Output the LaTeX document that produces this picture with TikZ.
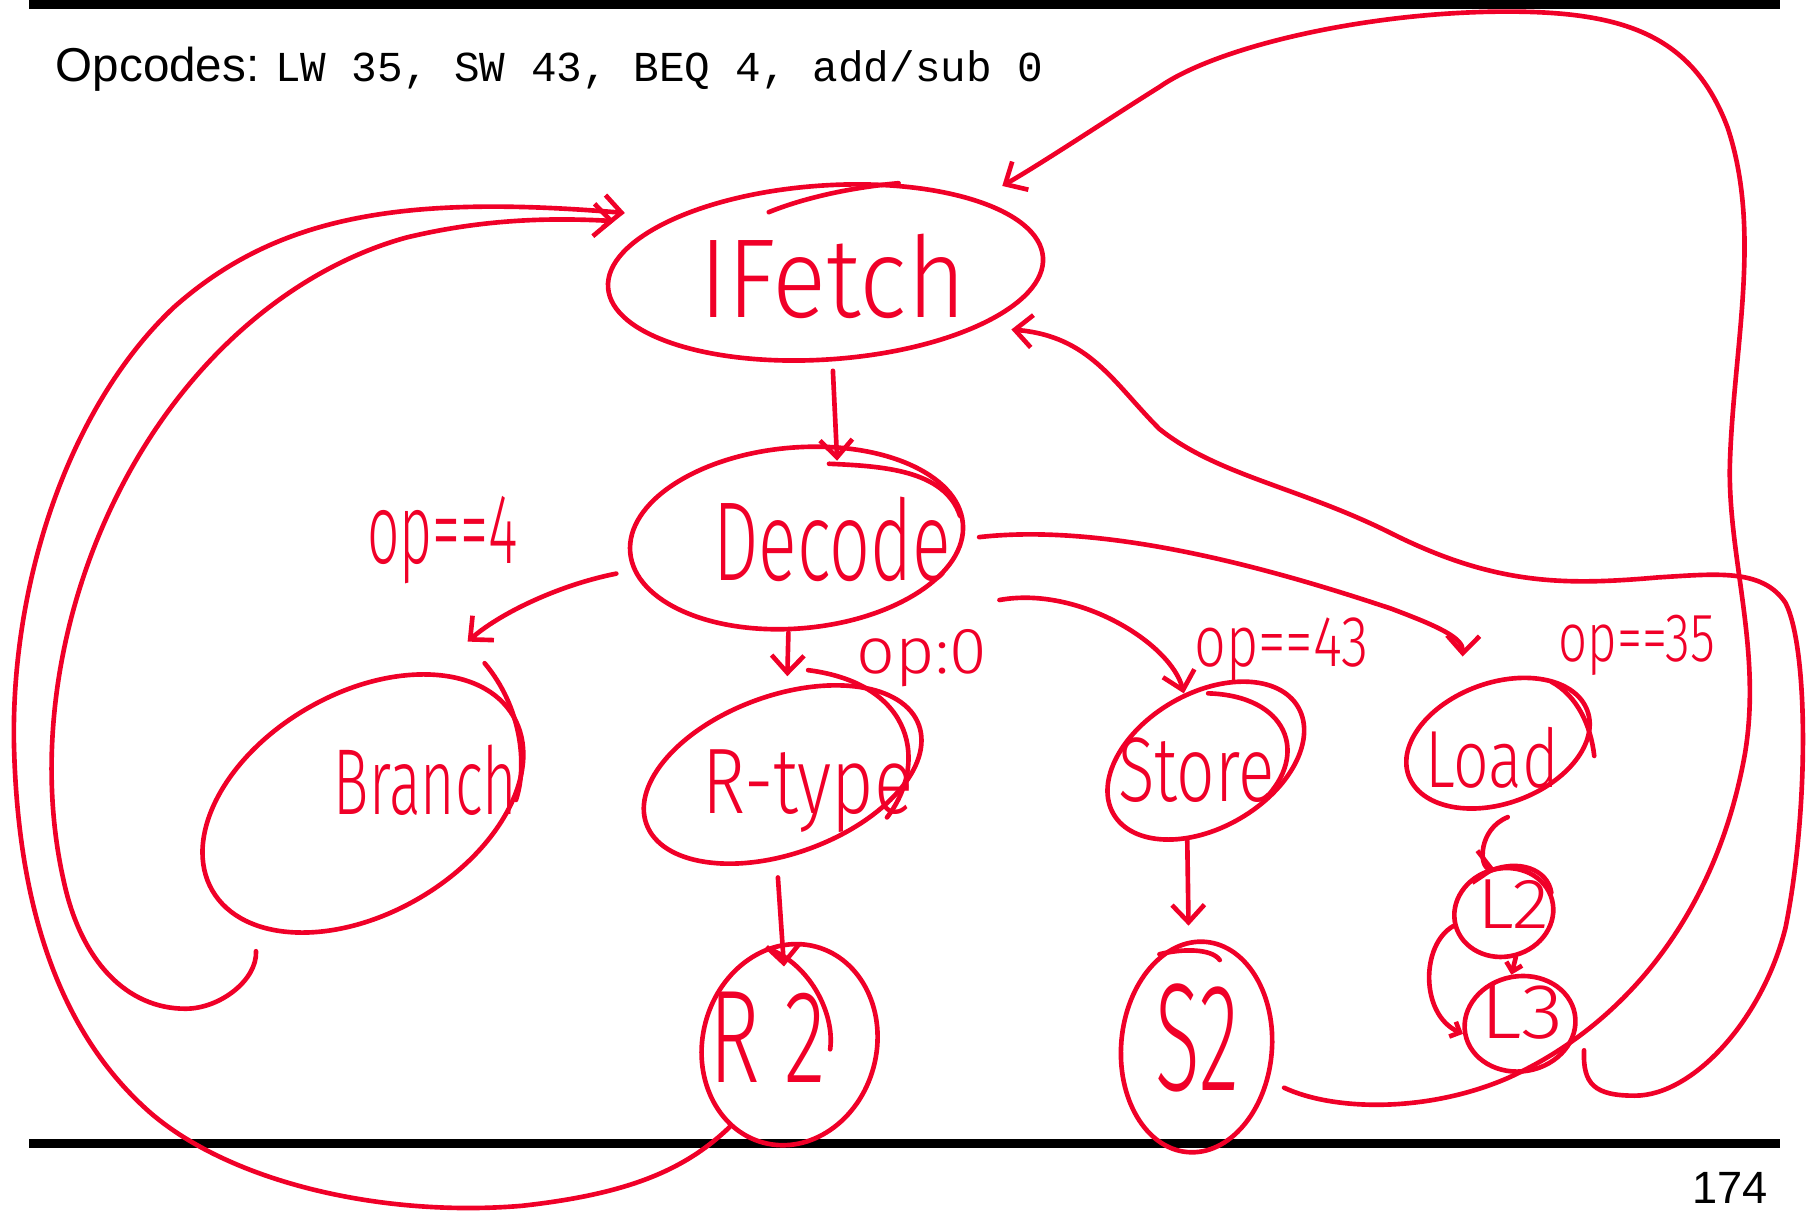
\documentclass[tikz,border=0pt]{standalone}
\usepackage{fontspec}
\usepackage{graphicx}
\setmainfont{Liberation Sans}
\setmonofont{Liberation Mono}
\IfFontExistsTF{Fira Sans Light}{\newfontfamily\handfont{Fira Sans Light}}{\newfontfamily\handfont{Fira Sans}}
\usetikzlibrary{shapes.geometric,arrows.meta}
\definecolor{ink}{RGB}{240,0,40}
\newcommand{\hw}[3]{\resizebox{#1pt}{#2pt}{\handfont #3}}
\begin{document}
\begin{tikzpicture}[x=1pt,y=-1pt,
  hand/.style={draw=ink, line width=4pt, line cap=round, line join=round},
  st/.style={ellipse, draw=ink, line width=4pt, inner sep=0pt},
  lbl/.style={text=ink, inner sep=0pt},
  arr/.style={hand, -{Straight Barb[length=15pt,width=28pt]}},
  sarr/.style={hand, -{Straight Barb[length=7pt,width=14pt]}}]
\useasboundingbox (0,0) rectangle (1568,1044);
\fill[black] (25,0) rectangle (1535,8);
\fill[black] (25,982) rectangle (1535,990);
\node[anchor=base west, inner sep=0pt] (opc) at (48,70) {\fontsize{41}{41}\selectfont Opcodes:};
\node[anchor=base west, inner sep=0pt] (codes) at (237,70) {\fontsize{36.8}{37}\selectfont\ttfamily LW 35, SW 43, BEQ 4, add/sub 0};
\node[anchor=base east, inner sep=0pt] (page) at (1525,1038) {\fontsize{39}{39}\selectfont 174};

% states
\node[st, minimum width=376pt, minimum height=150pt, rotate=4] (fetch) at (712,235) {};
\node[st, minimum width=288pt, minimum height=156pt, rotate=5] (decode) at (687,464) {};
\node[st, minimum width=300pt, minimum height=190pt, rotate=30] (branch) at (313,693) {};
\node[st, minimum width=250pt, minimum height=136pt, rotate=20] (rtype) at (675,668) {};
\node[st, minimum width=184pt, minimum height=116pt, rotate=30] (store) at (1040,656) {};
\node[st, minimum width=164pt, minimum height=104pt, rotate=20] (load) at (1292,641) {};
\node[st, minimum width=150pt, minimum height=175pt, rotate=-15] (r2) at (681,901) {};
\node[st, minimum width=130pt, minimum height=182pt, rotate=-5] (s2) at (1032,903) {};
\node[st, minimum width=86pt, minimum height=76pt, rotate=15] (l2) at (1297,787) {};
\node[st, minimum width=96pt, minimum height=82pt, rotate=10] (l3) at (1311,883) {};

% extra hand strokes on outlines
\draw[hand] (663,183) .. controls (690,172) and (730,162) .. (775,158);
\draw[hand] (715,400) .. controls (760,402) and (815,405) .. (828,445);
\draw[hand] (697,578) .. controls (790,590) and (800,660) .. (765,705);
\draw[hand] (1042,598) .. controls (1110,600) and (1130,650) .. (1090,690);
\draw[hand] (1338,588) .. controls (1360,600) and (1372,625) .. (1375,652);
\draw[hand] (418,572) .. controls (450,610) and (455,660) .. (445,690);
\draw[hand] (667,820) .. controls (700,835) and (720,875) .. (716,905);
\draw[hand] (1000,823) .. controls (1020,818) and (1045,818) .. (1052,828);
\draw[hand] (1283,752) .. controls (1310,740) and (1335,750) .. (1338,770);

% labels
\node[lbl] (fetchT) at (718,238) {\hw{230}{72}{IFetch}};
\node[lbl] (decodeT) at (718,465) {\hw{205}{72}{Decode}};
\node[lbl] (branchT) at (367,673) {\hw{158}{60}{Branch}};
\node[lbl] (rtypeT) at (697,682) {\hw{182}{55}{R-type}};
\node[lbl] (storeT) at (1032,664) {\hw{135}{55}{Store}};
\node[lbl] (loadT) at (1287,654) {\hw{115}{52}{Load}};
\node[lbl] (r2T) at (662,895) {\hw{100}{78}{R 2}};
\node[lbl] (s2T) at (1033,895) {\hw{72}{92}{S2}};
\node[lbl] (l2T) at (1305,780) {\hw{62}{42}{L2}};
\node[lbl] (l3T) at (1313,873) {\hw{72}{46}{L3}};
\node[lbl] (c4) at (382,466) {\hw{130}{58}{op==4}};
\node[lbl] (c0) at (795,568) {\hw{112}{38}{op:0}};
\node[lbl] (c43) at (1105,560) {\hw{150}{42}{op==43}};
\node[lbl] (c35) at (1412,557) {\hw{135}{40}{op==35}};

% transitions
\draw[arr] ([xshift=1pt,yshift=-8pt]fetch.south) -- ([xshift=42pt,yshift=-13pt]decode.north);
\draw[arr] ([xshift=-10pt,yshift=-18pt]decode.west) .. controls (480,505) and (430,530) .. ([yshift=32pt]branch.20);
\draw[arr] ([xshift=-14pt,yshift=-2pt]decode.south) -- ([xshift=28pt,yshift=19pt]rtype.north);
\draw[arr] ([xshift=50pt,yshift=-20pt]decode.-20) .. controls (930,505) and (1010,555) .. ([xshift=11pt,yshift=6pt]store.north);
\draw[arr] ([xshift=12pt,yshift=-12pt]decode.east) .. controls (960,450) and (1110,495) .. (1200,525) .. controls (1240,540) and (1262,550) .. ([xshift=-12pt,yshift=24pt]load.north);
\draw[arr] ([xshift=-28pt,yshift=-23pt]rtype.south) -- ([xshift=-28pt,yshift=-19pt]r2.north);
\draw[arr] ([xshift=-46pt,yshift=-17pt]store.south) -- ([xshift=-15pt,yshift=12pt]s2.north);
\draw[arr] ([xshift=-10pt,yshift=-13pt]load.south) .. controls (1275,715) and (1275,748) .. ([xshift=3pt,yshift=-2pt]l2.north);
\draw[sarr] (l2.south) -- (l3.north);
\draw[sarr] (l2.west) .. controls (1225,815) and (1225,875) .. (l3.west);
% back to IFetch
\draw[arr] ([xshift=-12pt,yshift=-17pt]branch.-156) .. controls (222,845) and (190,870) .. (160,870)
  .. controls (110,870) and (70,830) .. (55,760)
  .. controls (30,650) and (50,520) .. (110,410)
  .. controls (170,300) and (260,230) .. (350,205)
  .. controls (420,188) and (480,188) .. ([xshift=-21pt,yshift=13pt]fetch.165);
\draw[arr] (r2.249) .. controls (590,1010) and (540,1030) .. (450,1040)
  .. controls (330,1050) and (200,1020) .. (130,960)
  .. controls (50,890) and (15,780) .. (12,640)
  .. controls (10,500) and (60,350) .. (150,265)
  .. controls (240,185) and (350,168) .. ([xshift=-12pt,yshift=20pt]fetch.165);
\draw[arr] ([xshift=13pt,yshift=-6pt]s2.-20) .. controls (1150,958) and (1230,960) .. (1300,930)
  .. controls (1400,885) and (1480,790) .. (1505,650)
  .. controls (1520,560) and (1490,480) .. (1492,400)
  .. controls (1495,300) and (1520,200) .. (1490,110)
  .. controls (1460,30) and (1400,10) .. (1300,10)
  .. controls (1180,10) and (1050,40) .. (1000,75)
  .. controls (960,100) and (900,140) .. ([xshift=22pt,yshift=11pt]fetch.22);
\draw[arr] ([xshift=11pt,yshift=-5pt]l3.-32) .. controls (1365,935) and (1375,945) .. (1410,945)
  .. controls (1460,945) and (1520,880) .. (1540,800)
  .. controls (1560,700) and (1560,560) .. (1540,520)
  .. controls (1520,490) and (1480,495) .. (1430,498)
  .. controls (1350,505) and (1290,505) .. (1200,460)
  .. controls (1120,420) and (1050,410) .. (1000,370)
  .. controls (960,330) and (940,290) .. ([xshift=19pt,yshift=-6pt]fetch.-21);
\end{tikzpicture}
\end{document}
